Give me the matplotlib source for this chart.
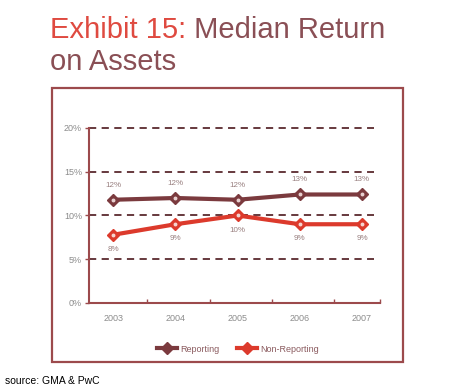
import matplotlib.pyplot as plt
from matplotlib.patches import Rectangle

years = ["2003", "2004", "2005", "2006", "2007"]
reporting = [11.8, 12.0, 11.8, 12.4, 12.4]
non_reporting = [7.8, 9.0, 10.0, 9.0, 9.0]
reporting_labels = ["12%", "12%", "12%", "13%", "13%"]
non_reporting_labels = ["8%", "9%", "10%", "9%", "9%"]
y_ticks = [0, 5, 10, 15, 20]
y_ticklabels = ["0%", "5%", "10%", "15%", "20%"]

plt.rcParams['font.family'] = ['Liberation Sans', 'DejaVu Sans']

dark = '#7b3a3e'
red = '#dc3a2c'
frame = '#9c4a4c'
grey = '#8c8c8c'

fig = plt.figure(figsize=(4.57, 3.92), dpi=100)

# title, two colours
t1 = fig.text(50 / 457, 1 - 38 / 392, "Exhibit 15:", color='#df4a40',
              fontsize=21, va='baseline', ha='left')
fig.canvas.draw()
bb = t1.get_window_extent(fig.canvas.get_renderer())
fig.text(bb.x1 / fig.bbox.width, 1 - 38 / 392, " Median Return", color='#8a4f55',
         fontsize=21, va='baseline', ha='left')
fig.text(50 / 457, 1 - 70 / 392, "on Assets", color='#8a4f55',
         fontsize=21, va='baseline', ha='left')

# outer box
fig.patches.append(Rectangle((52 / 457, 1 - 362 / 392), 351 / 457, 274 / 392,
                             transform=fig.transFigure, fill=False,
                             edgecolor=frame, linewidth=1.6))

ax = fig.add_axes([89 / 457, 1 - 303 / 392, 291 / 457, 175 / 392])
x = list(range(len(years)))

ax.plot(x, reporting, color=dark, lw=3, marker='D', ms=6.5,
        mfc=dark, mec=dark, label='Reporting', zorder=4)
ax.plot(x, reporting, ls='none', marker='o', ms=1.8, color='#e8d0d0', zorder=5)
ax.plot(x, non_reporting, color=red, lw=3, marker='D', ms=6.5,
        mfc=red, mec=red, label='Non-Reporting', zorder=4)
ax.plot(x, non_reporting, ls='none', marker='o', ms=1.8, color='#f5d5d0', zorder=5)

for xi, v, s in zip(x, reporting, reporting_labels):
    ax.annotate(s, (xi, v), xytext=(0, 8), textcoords='offset points',
                ha='center', va='bottom', fontsize=5.8, color='#998080')
for xi, v, s in zip(x, non_reporting, non_reporting_labels):
    ax.annotate(s, (xi, v), xytext=(0, -8), textcoords='offset points',
                ha='center', va='top', fontsize=5.8, color='#998080')

for yv in y_ticks[1:]:
    ax.plot([-0.39, 4.2], [yv, yv], color='#5a2a2e', lw=1.3,
            dashes=(4, 3), zorder=2, clip_on=False)

ax.set_xlim(-0.39, 4.29)
ax.set_ylim(0, 20)
ax.set_yticks(y_ticks)
ax.set_yticklabels(y_ticklabels)
ax.set_xticks(x)
ax.set_xticklabels(years)
ax.set_xticks([0.55, 1.55, 2.55, 3.55, 4.29], minor=True)
ax.tick_params(axis='x', which='major', length=0, pad=8, labelsize=6.5, labelcolor=grey)
ax.tick_params(axis='x', which='minor', length=3, direction='in', color=frame, width=1)
ax.tick_params(axis='y', length=3, direction='out', color=frame, width=1,
               labelsize=6.5, labelcolor=grey, pad=2)
for side in ['top', 'right']:
    ax.spines[side].set_visible(False)
for side in ['left', 'bottom']:
    ax.spines[side].set_color(frame)
    ax.spines[side].set_linewidth(1.5)

fig.legend(loc='center', bbox_to_anchor=(238 / 457, 1 - 349 / 392), ncol=2,
           frameon=False, fontsize=6.5, labelcolor='#8a5a5e', handlelength=2.2,
           columnspacing=2.0, handletextpad=0.3)

fig.text(5 / 457, 1 - 381 / 392, "source: GMA & PwC", fontsize=7.5,
         color='black', va='center', ha='left')

fig.savefig('out.png', dpi=100)
